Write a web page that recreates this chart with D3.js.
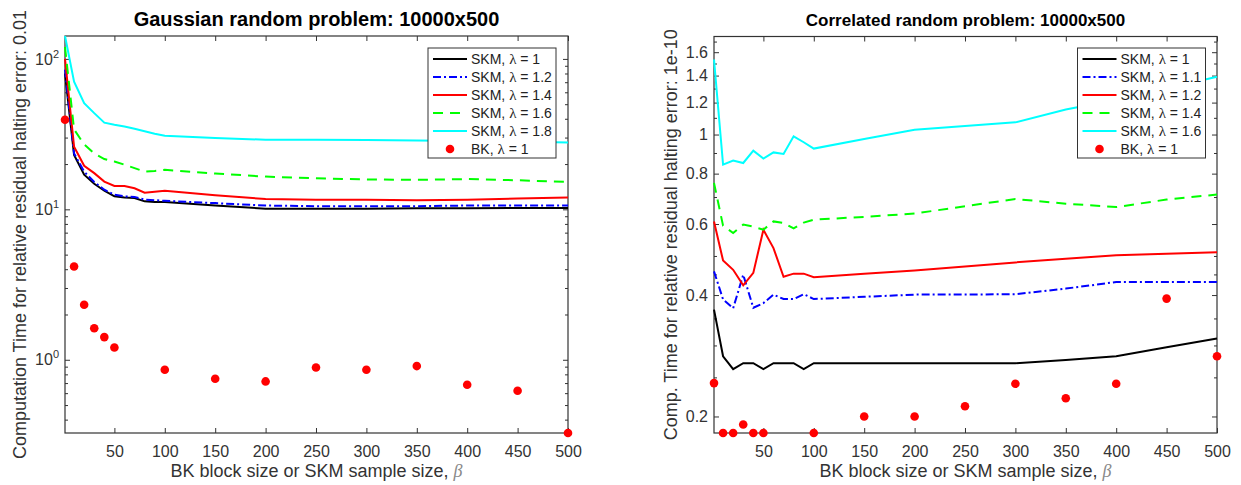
<!DOCTYPE html>
<html><head><meta charset="utf-8">
<script src="https://cdn.jsdelivr.net/npm/d3@7"></script>
<style>body{margin:0;background:#fff;} svg{display:block;font-family:"Liberation Sans",Arial,sans-serif;}</style>
</head><body><svg id="c" width="1241" height="485"></svg>
<script>
// ---------- data ----------
const skmX = [1,10,20,30,40,50,60,70,80,90,100,150,200,250,300,350,400,450,500];
const bkX  = [1,10,20,30,40,50,100,150,200,250,300,350,400,450,500];
const xTicks = [50,100,150,200,250,300,350,400,450,500];

// Gaussian random problem
const gaussLambdas = ["1","1.2","1.4","1.6","1.8"];
const gaussSKM1  = [80,23.0,17.0,14.8,13.3,12.2,12.0,11.9,11.3,11.2,11.2,10.6,10.1,10.1,10.1,10.15,10.15,10.2,10.2];
const gaussSKM12 = [85,23.5,17.8,15.2,13.5,12.5,12.2,12.1,11.6,11.5,11.4,11.0,10.6,10.5,10.5,10.5,10.6,10.6,10.6];
const gaussSKM14 = [100,26.1,19.5,17.4,15.3,14.3,14.3,13.8,12.9,13.1,13.3,12.4,11.7,11.6,11.6,11.5,11.6,11.8,12.0];
const gaussSKM16 = [120,34,27,23.5,21.6,20.8,19.8,18.8,17.8,18.0,18.3,17.3,16.5,16.1,15.8,15.7,15.9,15.6,15.2];
const gaussSKM18 = [142,70.6,50.8,43.6,37.7,36.5,35.5,34.3,33.0,31.8,30.8,29.8,29.0,29.0,28.9,28.7,28.5,28.2,27.8];
const gaussBK    = [39.4,4.17,2.32,1.62,1.415,1.207,0.858,0.748,0.718,0.889,0.858,0.908,0.682,0.623,0.326];
const gaussYTicks = [1,10,100];

// Correlated random problem
const corrLambdas = ["1","1.1","1.2","1.4","1.6"];
const corrSKM1  = [0.368,0.282,0.262,0.271,0.271,0.262,0.271,0.271,0.271,0.262,0.271,0.271,0.271,0.271,0.271,0.276,0.282,0.297,0.312];
const corrSKM11 = [0.458,0.390,0.371,0.449,0.372,0.382,0.401,0.391,0.391,0.402,0.391,0.396,0.401,0.401,0.402,0.415,0.431,0.431,0.431];
const corrSKM12 = [0.609,0.487,0.462,0.423,0.454,0.581,0.523,0.444,0.452,0.452,0.443,0.452,0.460,0.471,0.482,0.492,0.502,0.506,0.511];
const corrSKM14 = [0.759,0.594,0.570,0.598,0.591,0.581,0.609,0.604,0.585,0.605,0.615,0.625,0.637,0.664,0.692,0.674,0.661,0.690,0.710];
const corrSKM16 = [1.535,0.842,0.862,0.850,0.912,0.872,0.903,0.895,0.990,0.957,0.923,0.975,1.028,1.050,1.072,1.153,1.220,1.300,1.390];
const corrBK    = [0.242,0.182,0.182,0.191,0.182,0.182,0.182,0.2,0.2,0.212,0.241,0.222,0.241,0.392,0.282];
const corrYTicks = [0.2,0.4,0.6,0.8,1,1.2,1.4,1.6];

// ---------- drawing ----------
const svg = d3.select('#c');
const AX = '#333333';
const styles = [
  {color:'#000000', dash:null},
  {color:'#0000ff', dash:'8,3,2,3'},
  {color:'#ff0000', dash:null},
  {color:'#00ff00', dash:'10,7'},
  {color:'#00ffff', dash:null}
];

function panel(p) {
  const g = svg.append('g');
  const x = d3.scaleLinear().domain([1,500]).range([p.left, p.right]);
  const y = d3.scaleLog().domain(p.yDomain).range([p.bottom, p.top]);

  // ticks
  const ax = (gen, tx, ty) => g.append('g').attr('transform', `translate(${tx},${ty})`).call(gen)
      .call(s => s.select('.domain').remove())
      .call(s => s.selectAll('line').attr('stroke', AX))
      .call(s => s.selectAll('text').attr('fill', AX).attr('font-size', 16).attr('font-family','"Liberation Sans",Arial,sans-serif'));
  ax(d3.axisBottom(x).tickValues(xTicks).tickSizeInner(-5).tickSizeOuter(0).tickPadding(13), 0, p.bottom);
  ax(d3.axisTop(x).tickValues(xTicks).tickSizeInner(-5).tickSizeOuter(0).tickFormat(''), 0, p.top);
  ax(d3.axisLeft(y).tickValues(p.yTicks).tickSizeInner(-5).tickSizeOuter(0).tickFormat(''), p.left, 0);
  ax(d3.axisRight(y).tickValues(p.yTicks).tickSizeInner(-5).tickSizeOuter(0).tickFormat(''), p.right, 0);
  ax(d3.axisLeft(y).tickValues(p.yMinor).tickSizeInner(-3).tickSizeOuter(0).tickFormat(''), p.left, 0);
  ax(d3.axisRight(y).tickValues(p.yMinor).tickSizeInner(-3).tickSizeOuter(0).tickFormat(''), p.right, 0);

  // y tick labels
  const yl = g.append('g').selectAll('text').data(p.yTicks).join('text')
    .attr('x', p.left - 6).attr('y', d => y(d)).attr('dy', '0.35em')
    .attr('text-anchor', 'end').attr('font-size', 16).attr('fill', AX);
  if (p.logLabels) {
    yl.each(function(d) {
      const t = d3.select(this);
      t.append('tspan').text('10');
      t.append('tspan').attr('font-size', 11).attr('dy', '-7').text(Math.round(Math.log10(d)));
    });
  } else {
    yl.text(d => d3.format('~g')(d));
  }

  // box
  g.append('rect').attr('x', p.left).attr('y', p.top)
    .attr('width', p.right - p.left).attr('height', p.bottom - p.top)
    .attr('fill', 'none').attr('stroke', AX).attr('stroke-width', 1.2);

  // lines
  const line = d3.line().x(d => x(d[0])).y(d => y(d[1]));
  p.series.forEach((vals, i) => {
    g.append('path').datum(d3.zip(skmX, vals)).attr('d', line)
      .attr('fill', 'none').attr('stroke', styles[i].color).attr('stroke-width', 2)
      .attr('stroke-dasharray', styles[i].dash);
  });
  g.append('g').selectAll('circle').data(d3.zip(bkX, p.bk)).join('circle')
    .attr('cx', d => x(d[0])).attr('cy', d => y(d[1])).attr('r', 4.3).attr('fill', '#ff0000');

  // title & labels
  g.append('text').attr('x', (p.left + p.right) / 2).attr('y', 26).attr('text-anchor', 'middle')
    .attr('font-weight', 'bold').attr('font-size', p.titleSize).attr('fill', '#000').text(p.title);
  const xl = g.append('text').attr('x', (p.left + p.right) / 2).attr('y', 477).attr('text-anchor', 'middle')
    .attr('font-size', 18).attr('fill', AX);
  xl.append('tspan').text('BK block size or SKM sample size, ');
  xl.append('tspan').attr('font-family', '"Liberation Serif",serif').attr('font-style', 'italic').attr('fill', '#888').text('β');
  g.append('text').attr('transform', `translate(${p.yLabelX},${(p.top + p.bottom) / 2}) rotate(-90)`)
    .attr('text-anchor', 'middle').attr('font-size', 18).attr('fill', AX).text(p.yLabel);

  // legend
  const L = p.legend;
  const lg = g.append('g');
  lg.append('rect').attr('x', L.x).attr('y', 48).attr('width', 128).attr('height', 110)
    .attr('fill', '#fff').attr('stroke', AX).attr('stroke-width', 1);
  const rowY = i => 59 + i * 18;
  p.lambdas.forEach((lam, i) => {
    lg.append('line').attr('x1', L.x + 5).attr('x2', L.x + 39).attr('y1', rowY(i)).attr('y2', rowY(i))
      .attr('stroke', styles[i].color).attr('stroke-width', 2).attr('stroke-dasharray', styles[i].dash);
    const t = lg.append('text').attr('x', L.x + 43).attr('y', rowY(i)).attr('dy', '0.35em')
      .attr('font-size', 14).attr('fill', '#222');
    t.append('tspan').text('SKM, ');
    t.append('tspan').attr('font-family', '"Liberation Serif",serif').attr('font-size', 15).text('λ');
    t.append('tspan').text(' = ' + lam);
  });
  lg.append('circle').attr('cx', L.x + 22).attr('cy', rowY(5)).attr('r', 4.3).attr('fill', '#ff0000');
  const tb = lg.append('text').attr('x', L.x + 43).attr('y', rowY(5)).attr('dy', '0.35em')
    .attr('font-size', 14).attr('fill', '#222');
  tb.append('tspan').text('BK, ');
  tb.append('tspan').attr('font-family', '"Liberation Serif",serif').attr('font-size', 15).text('λ');
  tb.append('tspan').text(' = 1');
}

const logMinor = [];
[0.1, 1, 10].forEach(b => { for (let k = 2; k <= 9; k++) { const v = k * b; if (v >= 0.326 && v <= 142) logMinor.push(v); } });
const corrMinor = [0.25,0.3,0.35,0.45,0.5,0.7,0.9,1.1,1.3,1.5,1.7];

panel({
  left: 65, right: 568, top: 36, bottom: 433,
  yDomain: [0.326, 142], yTicks: gaussYTicks, yMinor: logMinor, logLabels: true,
  series: [gaussSKM1, gaussSKM12, gaussSKM14, gaussSKM16, gaussSKM18], bk: gaussBK,
  title: 'Gaussian random problem: 10000x500', titleSize: 20,
  yLabel: 'Computation Time for relative residual halting error: 0.01', yLabelX: 26,
  lambdas: gaussLambdas, legend: {x: 428}
});
panel({
  left: 714, right: 1217, top: 36.5, bottom: 433,
  yDomain: [0.182, 1.75], yTicks: corrYTicks, yMinor: corrMinor, logLabels: false,
  series: [corrSKM1, corrSKM11, corrSKM12, corrSKM14, corrSKM16], bk: corrBK,
  title: 'Correlated random problem: 10000x500', titleSize: 17,
  yLabel: 'Comp. Time for relative residual halting error: 1e-10', yLabelX: 677,
  lambdas: corrLambdas, legend: {x: 1077.5}
});
</script></body></html>
